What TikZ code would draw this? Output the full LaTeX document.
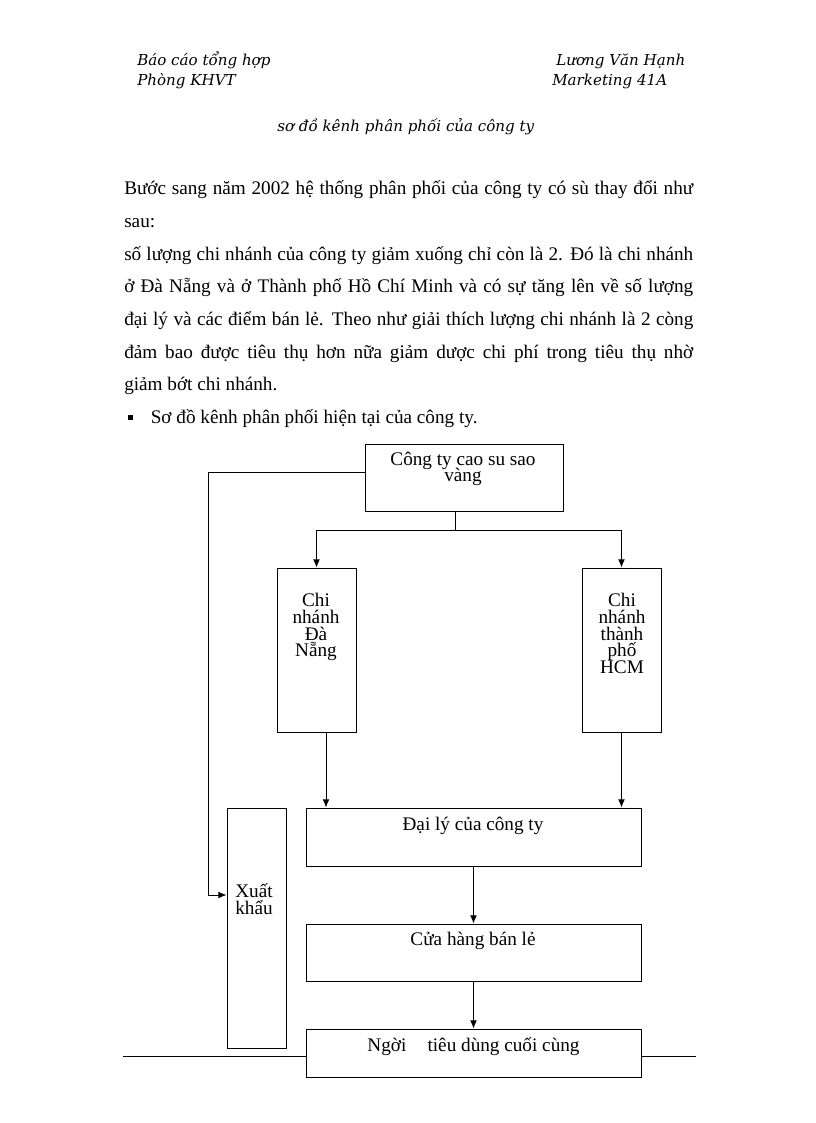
\documentclass[tikz,border=0pt]{standalone}
\usepackage{fontspec}
\setmainfont{Liberation Serif}
\newfontfamily\hdrfont{DejaVu Serif}
\usetikzlibrary{arrows.meta,calc}
\newdimen\pxu \pxu=0.729pt
\newcommand\stk[2]{\vtop{\baselineskip=#1\pxu\lineskiplimit=-100pt\lineskip=0pt\halign{\hfil##\hfil\cr#2\crcr}}}
\tikzset{
 box/.style={draw, line width=0.7pt, fill=white, inner sep=0pt},
 lbl/.style={inner sep=0pt, anchor=base, font=\fontsize{14}{16}\selectfont},
 bodyline/.style={inner sep=0pt, anchor=base west, font=\fontsize{14}{16}\selectfont},
 hdr/.style={inner sep=0pt, anchor=base west, font=\hdrfont\itshape\fontsize{11}{13}\selectfont},
 conn/.style={line width=0.7pt},
 arr/.style={conn, -{Latex[length=6pt,width=5pt]}},
}
\begin{document}
\begin{tikzpicture}[x=0.729pt,y=-0.729pt]
\useasboundingbox (0,0) rectangle (816,1123);
% header
\node[hdr] (h1) at (137,66) {Báo cáo tổng hợp};
\node[hdr] (h2) at (137,86) {Phòng KHVT};
\node[hdr] (h3) at (556,66) {Lương Văn Hạnh};
\node[hdr] (h4) at (552,86) {Marketing 41A};
\node[hdr] (title) at (277,132) {sơ đồ kênh phân phối của công ty};
% body
\node[bodyline] (l1) at (124,195) {\makebox[569\pxu][s]{Bước sang năm 2002 hệ thống phân phối của công ty có sù thay đổi như}};
\node[bodyline] (l2) at (124,227.6) {sau:};
\node[bodyline] (l3) at (124,260.2) {\makebox[569\pxu][s]{số lượng chi nhánh của công ty giảm xuống chỉ còn là 2. Đó là chi nhánh}};
\node[bodyline] (l4) at (124,292.8) {\makebox[569\pxu][s]{ở Đà Nẵng và ở Thành phố Hồ Chí Minh và có sự tăng lên về số lượng}};
\node[bodyline] (l5) at (124,325.4) {\makebox[569\pxu][s]{đại lý và các điểm bán lẻ. Theo như giải thích lượng chi nhánh là 2 còng}};
\node[bodyline] (l6) at (124,358) {\makebox[569\pxu][s]{đảm bao được tiêu thụ hơn nữa giảm dược chi phí trong tiêu thụ nhờ}};
\node[bodyline] (l7) at (124,390.6) {giảm bớt chi nhánh.};
\node[fill=black, minimum size=5*\pxu, inner sep=0pt] (bul) at (130.5,417) {};
\node[bodyline] (l8) at (150.5,423.2) {Sơ đồ kênh phân phối hiện tại của công ty.};
% boxes
\node[box, minimum width=198*\pxu, minimum height=67*\pxu] (top) at (464,477.5) {};
\node[box, minimum width=79*\pxu, minimum height=164*\pxu] (dn) at (316.5,650) {};
\node[box, minimum width=79*\pxu, minimum height=164*\pxu] (hcm) at (621.5,650) {};
\node[box, minimum width=335*\pxu, minimum height=58*\pxu] (daily) at (473.5,837) {};
\node[box, minimum width=335*\pxu, minimum height=57*\pxu] (cuahang) at (473.5,952.5) {};
\node[box, minimum width=335*\pxu, minimum height=48*\pxu] (nguoi) at (473.5,1053) {};
\node[box, minimum width=59*\pxu, minimum height=240*\pxu] (xk) at (256.5,928) {};
% box texts
\node[lbl] (ttop) at (463,465.7) {\stk{16}{Công ty cao su sao\cr vàng}};
\node[lbl] (tdn) at (316,606.7) {\stk{16.7}{Chi\cr nhánh\cr Đà\cr Nẵng}};
\node[lbl] (thcm) at (622,606.7) {\stk{16.7}{Chi\cr nhánh\cr thành\cr phố\cr HCM}};
\node[lbl] (tdaily) at (473,830) {Đại lý của công ty};
\node[lbl] (tcuahang) at (473,945) {Cửa hàng bán lẻ};
\node[lbl] (tnguoi) at (473.5,1051) {Ngời\hspace{1.1em}tiêu dùng cuối cùng};
\node[lbl] (txk) at (254,897.3) {\stk{17}{Xuất\cr khẩu}};
% connectors
\coordinate (j) at (455,530);
\draw[conn] (top.south -| j) -- (j);
\draw[arr] (j) -| (dn.north);
\draw[arr] (j) -| (hcm.north);
\coordinate (c1) at (326,770);
\draw[arr] (dn.south -| c1) -- (daily.north -| c1);
\draw[arr] (hcm.south) -- (hcm.south |- daily.north);
\draw[arr] (daily.south) -- (cuahang.north);
\draw[arr] (cuahang.south) -- (nguoi.north);
\coordinate (k1) at (208,472);
\coordinate (k2) at (208,895);
\draw[arr] (top.west |- k1) -- (k1) -- (k2) -- (xk.west |- k2);
\coordinate (r1) at (123,1056.7);
\coordinate (r2) at (696,1056.7);
\draw[conn] (r1) -- (nguoi.west |- r1);
\draw[conn] (nguoi.east |- r2) -- (r2);
\end{tikzpicture}
\end{document}
